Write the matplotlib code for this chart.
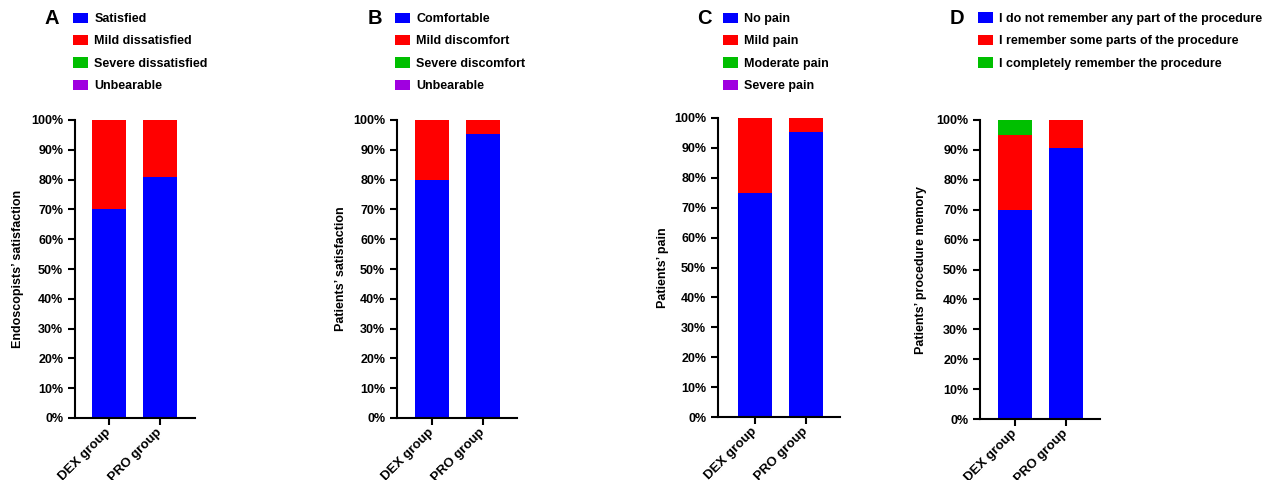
import matplotlib
matplotlib.use("Agg")
import matplotlib.pyplot as plt
from matplotlib.patches import Patch
from matplotlib.ticker import FuncFormatter

plt.rcParams['font.family'] = ['Liberation Sans', 'DejaVu Sans']
plt.rcParams['font.weight'] = 'bold'

groups = ["DEX group", "PRO group"]
colors = ["#0000FF", "#FF0000", "#00BF00", "#A000E0"]

# Panel A
a_labels = ["Satisfied", "Mild dissatisfied", "Severe dissatisfied", "Unbearable"]
a_values = [[70.0, 80.95], [30.0, 19.05], [0.0, 0.0], [0.0, 0.0]]
a_ylabel = "Endoscopists’ satisfaction"
# Panel B
b_labels = ["Comfortable", "Mild discomfort", "Severe discomfort", "Unbearable"]
b_values = [[80.0, 95.24], [20.0, 4.76], [0.0, 0.0], [0.0, 0.0]]
b_ylabel = "Patients’ satisfaction"
# Panel C
c_labels = ["No pain", "Mild pain", "Moderate pain", "Severe pain"]
c_values = [[75.0, 95.24], [25.0, 4.76], [0.0, 0.0], [0.0, 0.0]]
c_ylabel = "Patients’ pain"
# Panel D
d_labels = ["I do not remember any part of the procedure",
            "I remember some parts of the procedure",
            "I completely remember the procedure"]
d_values = [[70.0, 90.48], [25.0, 9.52], [5.0, 0.0]]
d_ylabel = "Patients’ procedure memory"

yticks = list(range(0, 101, 10))

W, H = 1268, 480
fig = plt.figure(figsize=(W / 100, H / 100), dpi=100)

# layout in pixels: (axis left, axis right, axis top, axis bottom, first bar center, letter x, legend x, ylabel x)
panels = [
    ("A", a_labels, a_values, a_ylabel, (75, 195, 120, 418, 109, 52, 73, 18)),
    ("B", b_labels, b_values, b_ylabel, (397, 517, 120, 418, 432, 375, 395, 341)),
    ("C", c_labels, c_values, c_ylabel, (718, 840, 118, 417, 755, 704, 723, 663)),
    ("D", d_labels, d_values, d_ylabel, (980, 1100, 120, 419, 1015, 957, 978, 921)),
]

spacing = 51.0
bw = 34.0 / spacing

for letter, labels, values, ylabel, (l, r, t, b, c0, lx, legx, ylx) in panels:
    ax = fig.add_axes([l / W, 1 - b / H, (r - l) / W, (b - t) / H])
    x = list(range(len(groups)))
    bottoms = [0.0] * len(groups)
    for vals, col, lab in zip(values, colors, labels):
        ax.bar(x, vals, width=bw, bottom=bottoms, color=col, linewidth=0, label=lab)
        bottoms = [bb + v for bb, v in zip(bottoms, vals)]
    ax.set_xlim((l - c0) / spacing, (r - c0) / spacing)
    ax.set_ylim(0, 100)
    ax.set_yticks(yticks)
    ax.yaxis.set_major_formatter(FuncFormatter(lambda v, p: f"{int(v)}%"))
    ax.set_xticks(x)
    ax.set_xticklabels(groups, rotation=45, ha='right', va='center',
                       rotation_mode='anchor', fontsize=9.5, fontweight='bold')
    ax.tick_params(axis='y', labelsize=9, width=1.5, length=5, direction='out')
    ax.tick_params(axis='x', width=1.5, length=5, direction='out', pad=4)
    for s in ['top', 'right']:
        ax.spines[s].set_visible(False)
    for s in ['left', 'bottom']:
        ax.spines[s].set_linewidth(1.5)
    for lbl in ax.get_yticklabels():
        lbl.set_fontweight('bold')
    fig.text(ylx / W, 1 - (t + b) / 2 / H, ylabel, rotation=90, ha='center', va='center',
             fontsize=9, fontweight='bold')
    fig.text(lx / W, 1 - 19 / H, letter, ha='center', va='center', fontsize=14.5, fontweight='bold')
    handles = [Patch(facecolor=c, edgecolor='none') for c in colors[:len(labels)]]
    fig.legend(handles, labels, loc='upper left',
               bbox_to_anchor=(legx / W, 1 - 12.5 / H), frameon=False,
               borderpad=0, borderaxespad=0, handlelength=1.2, handleheight=0.88,
               handletextpad=0.5, labelspacing=0.8,
               prop={'size': 9, 'weight': 'bold'})

fig.savefig("out.png", dpi=100)
